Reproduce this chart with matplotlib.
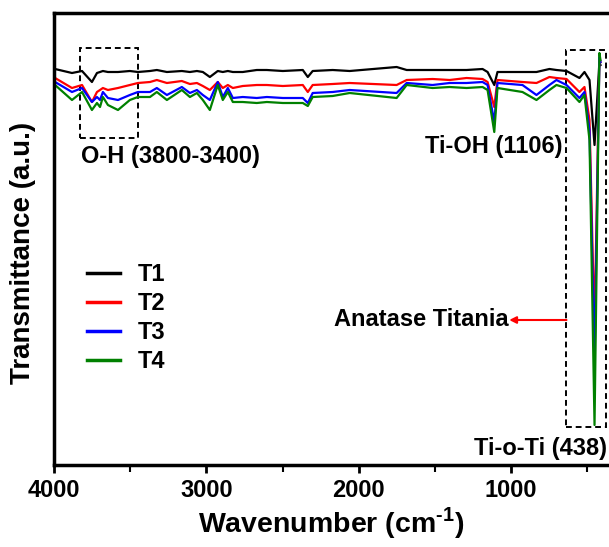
import matplotlib
matplotlib.use("Agg")
import matplotlib.pyplot as plt
from matplotlib.patches import Rectangle
from matplotlib.ticker import MultipleLocator

plt.rcParams['font.family'] = ['Liberation Sans', 'DejaVu Sans']
plt.rcParams['font.weight'] = 'bold'
plt.rcParams['mathtext.fontset'] = 'custom'
plt.rcParams['mathtext.rm'] = 'Liberation Sans:bold'
plt.rcParams['mathtext.bf'] = 'Liberation Sans:bold'

# ---- data (wavenumber in cm-1, transmittance in a.u.) ----
wavenumber = [3993, 3882, 3816, 3751, 3718, 3698, 3679, 3646, 3580, 3502,
              3449, 3370, 3325, 3259, 3161, 3108, 3062, 3023, 2977, 2925,
              2892, 2859, 2826, 2761, 2669, 2603, 2498, 2367, 2334, 2302,
              2171, 2059, 1751, 1685, 1515, 1403, 1292, 1187, 1154, 1110,
              1089, 925, 833, 748, 702, 636, 551, 518, 485, 452,
              420, 413]

t1 = [396, 392, 394, 383, 392, 393, 394, 393, 393, 394,
      393, 394, 395, 393, 394, 393, 394, 393, 388, 394,
      393, 394, 393, 393, 395, 395, 394, 395, 388, 394,
      395, 394, 398, 395, 395, 395, 395, 396, 393, 380,
      393, 393, 393, 396, 395, 394, 387, 393, 385, 320,
      403, 400]
t2 = [387, 377, 380, 363, 373, 375, 377, 375, 377, 380,
      382, 383, 385, 382, 384, 381, 382, 379, 375, 383,
      377, 380, 377, 379, 380, 380, 379, 380, 373, 380,
      381, 382, 380, 385, 386, 385, 387, 386, 383, 358,
      385, 383, 382, 388, 387, 386, 373, 378, 345, 135,
      407, 403]
t3 = [383, 373, 377, 363, 368, 365, 373, 367, 365, 370,
      373, 373, 377, 370, 378, 372, 375, 370, 365, 383,
      368, 377, 367, 368, 367, 368, 367, 367, 362, 372,
      373, 375, 372, 382, 380, 382, 382, 383, 380, 343,
      382, 380, 370, 380, 385, 380, 367, 373, 335, 100,
      408, 403]
t4 = [380, 365, 373, 355, 362, 358, 368, 360, 355, 365,
      368, 368, 373, 365, 375, 368, 372, 365, 355, 380,
      365, 373, 363, 363, 362, 363, 362, 362, 359, 368,
      369, 372, 367, 380, 377, 378, 377, 378, 375, 333,
      377, 373, 365, 375, 380, 377, 363, 370, 325, 40,
      412, 405]

series = [t1, t2, t3, t4]
labels = ['T1', 'T2', 'T3', 'T4']
colors = ['#000000', '#ff0000', '#0000ff', '#008000']
xticks = [4000, 3000, 2000, 1000]

# ---- figure ----
fig = plt.figure(figsize=(6.09, 5.47), dpi=100)
ax = fig.add_axes([54 / 609, 82 / 547, 1 - 54 / 609, (465 - 13) / 547])

for y, lab, c in zip(series, labels, colors):
    ax.plot(wavenumber, y, color=c, lw=1.6, label=lab)

ax.set_xlim(4000, 357)
ax.set_ylim(0, 452)
ax.set_xticks(xticks)
ax.xaxis.set_minor_locator(MultipleLocator(500))
ax.set_yticks([])
ax.tick_params(axis='x', which='major', direction='out', length=6, width=2,
               labelsize=17, pad=4)
ax.tick_params(axis='x', which='minor', direction='out', length=5, width=1.5)
for lbl in ax.get_xticklabels():
    lbl.set_fontweight('bold')
for s in ['left', 'bottom', 'top']:
    ax.spines[s].set_linewidth(2.5)
ax.spines['right'].set_visible(False)

ax.set_xlabel(r'Wavenumber (cm$^{\text{-1}}$)', fontsize=20.5, fontweight='bold',
              labelpad=2)
ax.set_ylabel('Transmittance (a.u.)', fontsize=20, fontweight='bold')
ax.yaxis.set_label_coords(-0.033, 0.47)

# annotation boxes
ax.add_patch(Rectangle((3830, 327), 3449 - 3830, 417 - 327, fill=False,
                       ls=(0, (3, 2)), lw=1.4, ec='black'))
ax.add_patch(Rectangle((636, 38), 374 - 636, 415 - 38, fill=False,
                       ls=(0, (3, 2)), lw=1.4, ec='black', clip_on=False))

ax.text(3823, 309, 'O-H (3800-3400)', fontsize=17, fontweight='bold',
        ha='left', va='center')
ax.text(1567, 319, 'Ti-OH (1106)', fontsize=17, fontweight='bold',
        ha='left', va='center')
ax.text(1016, 145, 'Anatase Titania', fontsize=17, fontweight='bold',
        ha='right', va='center')
ax.annotate('', xy=(1012, 145), xytext=(636, 145),
            arrowprops=dict(arrowstyle='-|>', color='red', lw=1.5,
                            mutation_scale=10, shrinkA=0, shrinkB=0))
ax.text(1246, 17, 'Ti-o-Ti (438)', fontsize=17, fontweight='bold',
        ha='left', va='center', clip_on=False)

leg = ax.legend(loc='center left', bbox_to_anchor=(87 / 609, 1 - 318 / 547),
                bbox_transform=fig.transFigure, frameon=False, fontsize=17,
                handlelength=1.4, handletextpad=0.75, labelspacing=0.25,
                borderpad=0, borderaxespad=0)
for line in leg.get_lines():
    line.set_linewidth(2.5)
for t in leg.get_texts():
    t.set_fontweight('bold')

fig.savefig('out.png', dpi=100)
